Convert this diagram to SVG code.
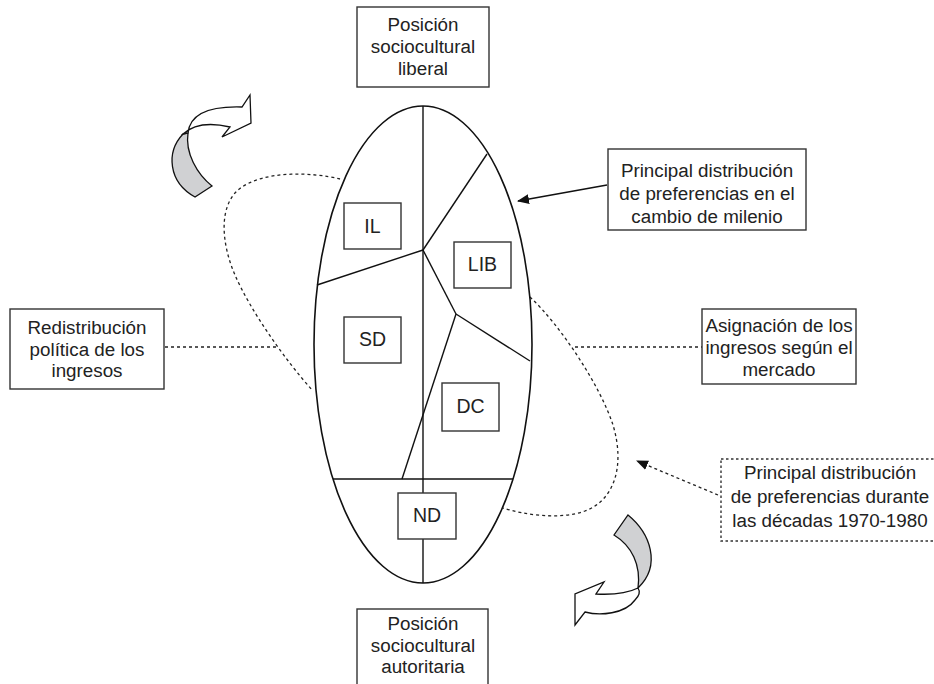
<svg xmlns="http://www.w3.org/2000/svg" width="934" height="684" viewBox="0 0 934 684">
<style>
text{font-family:"Liberation Sans",Arial,sans-serif;font-size:18.8px;fill:#222;text-anchor:middle}
.lbl{font-size:19.5px}
.box{fill:#fff;stroke:#333;stroke-width:1.4}
.dbox{fill:#fff;stroke:#333;stroke-width:1.4;stroke-dasharray:2.5,2.5}
.ln{fill:none;stroke:#111;stroke-width:1.4}
.dash{fill:none;stroke:#222;stroke-width:1.3;stroke-dasharray:3,3}
.gray{fill:#d0d1d3;stroke:#111;stroke-width:1.3;stroke-linejoin:miter}
.white{fill:#fff;stroke:#111;stroke-width:1.3;stroke-linejoin:miter}
</style>
<defs>
<marker id="ah" markerWidth="12" markerHeight="10" refX="11" refY="5" orient="auto" markerUnits="userSpaceOnUse">
<path d="M0,0 L12,5 L0,10 Z" fill="#111"/>
</marker>
</defs>

<g id="connectors">
<path class="dash" d="M340,179 C312,172 262,170 238,190 C218,208 222,245 235,275 C250,310 285,360 313,391"/>
<path class="dash" d="M530,297 C560,325 600,385 613,425 C625,465 615,500 585,511 C560,520 525,515 503,508"/>
<line class="dash" x1="165" y1="347" x2="277" y2="347"/>
<line class="dash" x1="575" y1="347" x2="702" y2="347"/>
<line class="ln" x1="607" y1="185" x2="518" y2="201" marker-end="url(#ah)"/>
<line class="dash" x1="718" y1="495" x2="637" y2="461" marker-end="url(#ah)"/>
</g>

<g id="ellipse">
<ellipse cx="423" cy="344.5" rx="109" ry="238.5" fill="#fff" stroke="#111" stroke-width="1.6"/>
<line class="ln" x1="423" y1="106" x2="423" y2="583"/>
<line class="ln" x1="333" y1="479" x2="513" y2="479"/>
<line class="ln" x1="423" y1="250" x2="487" y2="154"/>
<line class="ln" x1="423" y1="250" x2="317" y2="285"/>
<line class="ln" x1="423" y1="250" x2="456" y2="314"/>
<line class="ln" x1="456" y1="314" x2="530" y2="361"/>
<line class="ln" x1="456" y1="314" x2="402" y2="479"/>
</g>

<g id="node-IL"><rect class="box" x="344" y="203" width="57" height="46"/><text class="lbl" x="372.5" y="233">IL</text></g>
<g id="node-LIB"><rect class="box" x="454" y="242" width="57" height="46"/><text class="lbl" x="482.5" y="271">LIB</text></g>
<g id="node-SD"><rect class="box" x="344" y="317" width="57" height="46"/><text class="lbl" x="372.5" y="346">SD</text></g>
<g id="node-DC"><rect class="box" x="442" y="383" width="57" height="48"/><text class="lbl" x="470.5" y="413">DC</text></g>
<g id="node-ND"><rect class="box" x="398" y="493" width="58" height="46"/><text class="lbl" x="427" y="522">ND</text></g>

<g id="node-top">
<rect class="box" x="357" y="7" width="132" height="80"/>
<text x="423" y="31">Posición</text>
<text x="423" y="53">sociocultural</text>
<text x="423" y="75">liberal</text>
</g>

<g id="node-bottom">
<rect class="box" x="357" y="609" width="131" height="90"/>
<text x="423" y="630">Posición</text>
<text x="423" y="652">sociocultural</text>
<text x="423" y="673">autoritaria</text>
</g>

<g id="node-left">
<rect class="box" x="10" y="309" width="154" height="80"/>
<text x="87" y="334">Redistribución</text>
<text x="87" y="356">política de los</text>
<text x="87" y="377">ingresos</text>
</g>

<g id="node-right">
<rect class="box" x="702" y="309" width="154" height="75"/>
<text x="779" y="332">Asignación de los</text>
<text x="779" y="354">ingresos según el</text>
<text x="779" y="376">mercado</text>
</g>

<g id="node-milenio">
<rect class="box" x="608" y="149" width="198" height="81"/>
<text x="707" y="177">Principal distribución</text>
<text x="707" y="200">de preferencias en el</text>
<text x="707" y="223">cambio de milenio</text>
</g>

<g id="node-decadas">
<rect class="dbox" x="721" y="459" width="225" height="82"/>
<text x="830" y="479">Principal distribución</text>
<text x="830" y="503">de preferencias durante</text>
<text x="830" y="527">las décadas 1970-1980</text>
</g>

<g id="arrow-topleft">
<path class="gray" d="M183,134 C166,152 168,182 195,197 L212,186 C197,174 185,153 188,133 Z"/>
<path class="white" d="M188,133 C190,113 210,106 242,107 L250,95 L251,123 L222,137 L230,127 C213,123 195,123 183,134 Z"/>
</g>

<g id="arrow-bottomright">
<path class="gray" d="M628,515 C650,533 662,565 638,588 C641,565 632,546 614,535 Z"/>
<path class="white" d="M638,588 C630,592 615,595 596,594 L604,582 L575,594 L575,625 L585,612 C600,616 625,614 635,600 C640,595 640,591 638,588 Z"/>
</g>
</svg>
